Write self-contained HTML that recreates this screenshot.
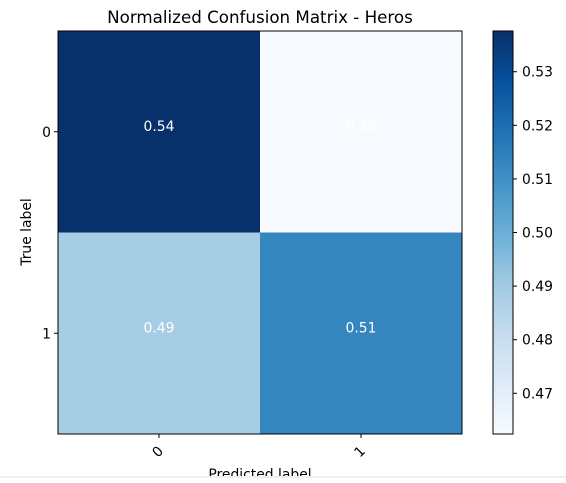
<!DOCTYPE html>
<html><head><meta charset="utf-8"><style>
body{margin:0;background:#fff;width:566px;height:478px;overflow:hidden;font-family:"Liberation Sans","DejaVu Sans",sans-serif}
</style></head><body>
<svg id="chart" width="566" height="478" xmlns="http://www.w3.org/2000/svg" font-family="DejaVu Sans, Liberation Sans, sans-serif">
<defs><linearGradient id="cbg" x1="0" y1="1" x2="0" y2="0">
<stop offset="0" stop-color="#f7fbff"/><stop offset="0.125" stop-color="#deebf7"/><stop offset="0.25" stop-color="#c6dbef"/><stop offset="0.375" stop-color="#9ecae1"/><stop offset="0.5" stop-color="#6baed6"/><stop offset="0.625" stop-color="#4292c6"/><stop offset="0.75" stop-color="#2171b5"/><stop offset="0.875" stop-color="#08519c"/><stop offset="1" stop-color="#08306b"/>
</linearGradient></defs>
<text x="260" y="23" text-anchor="middle" font-size="16.7" fill="#000">Normalized Confusion Matrix - Heros</text>
<g id="cells"></g>
<rect x="58" y="31" width="404" height="403" fill="none" stroke="#000" stroke-width="1"/>
<g id="ticks"></g>
<text transform="translate(31,232) rotate(-90)" text-anchor="middle" font-size="13.9">True label</text>
<text x="260" y="479" text-anchor="middle" font-size="13.9">Predicted label</text>
<rect x="493" y="31" width="20" height="403" fill="url(#cbg)" stroke="#000" stroke-width="1"/>
<g id="cbticks"></g>
<rect x="0" y="476" width="566" height="2" fill="#f0f0f0"/>
</svg>
<script>
const classes = ["0","1"];
const values = [[0.5376,0.4624],[0.4887,0.5130]];
const labels = [["0.54","0.46"],["0.49","0.51"]];
const cbTicks = [0.47,0.48,0.49,0.50,0.51,0.52,0.53];
const vmin = 0.4624, vmax = 0.5376;
const stops = ["#f7fbff","#deebf7","#c6dbef","#9ecae1","#6baed6","#4292c6","#2171b5","#08519c","#08306b"];
function hex(h){return [1,3,5].map(i=>parseInt(h.substr(i,2),16));}
function blues(t){t=Math.max(0,Math.min(1,t));const p=t*8,i=Math.min(7,Math.floor(p)),f=p-i;const a=hex(stops[i]),b=hex(stops[i+1]);return "rgb("+a.map((v,k)=>Math.round(v+(b[k]-v)*f)).join(",")+")";}
const X0=58,Y0=31,W=404,H=403,n=classes.length,cw=W/n,ch=H/n;
const xc=j=>X0+cw*(j+0.5), yc=i=>Y0+ch*(i+0.5);
const cbY=v=>434-(v-vmin)/(vmax-vmin)*403;
const NS="http://www.w3.org/2000/svg";
function mk(tag,attrs,parent,txt){const e=document.createElementNS(NS,tag);for(const k in attrs)e.setAttribute(k,attrs[k]);if(txt!==undefined)e.textContent=txt;parent.appendChild(e);return e;}
const cells=document.getElementById("cells"),ticks=document.getElementById("ticks"),cbt=document.getElementById("cbticks");
for(let i=0;i<n;i++)for(let j=0;j<n;j++){
 const r=mk("rect",{x:X0+cw*j,y:Y0+ch*i,width:cw,height:ch,fill:blues((values[i][j]-vmin)/(vmax-vmin))},cells);
 
 
 const t=mk("text",{x:xc(j),y:yc(i)-1,"text-anchor":"middle","font-size":"13.9",fill:"#fff"},cells,labels[i][j]);
 
 
}
classes.forEach((c,k)=>{
 mk("line",{x1:X0-4,x2:X0,y1:yc(k),y2:yc(k),stroke:"#000"},ticks);
 const ty=mk("text",{x:X0-7,y:yc(k)+5,"text-anchor":"end","font-size":"13.9"},ticks,c);
 
 
 mk("line",{x1:xc(k),x2:xc(k),y1:Y0+H,y2:Y0+H+4,stroke:"#000"},ticks);
 const tx=mk("text",{transform:"translate("+(xc(k)+2)+","+(Y0+H+21)+") rotate(-45)","text-anchor":"middle","font-size":"13.9"},ticks,c);
 
 
});
cbTicks.forEach(v=>{
 const y=cbY(v);
 mk("line",{x1:513,x2:517,y1:y,y2:y,stroke:"#000"},cbt);
 const t=mk("text",{x:522,y:y+5,"font-size":"13.9"},cbt,v.toFixed(2));
 
 
});
</script>
</body></html>
